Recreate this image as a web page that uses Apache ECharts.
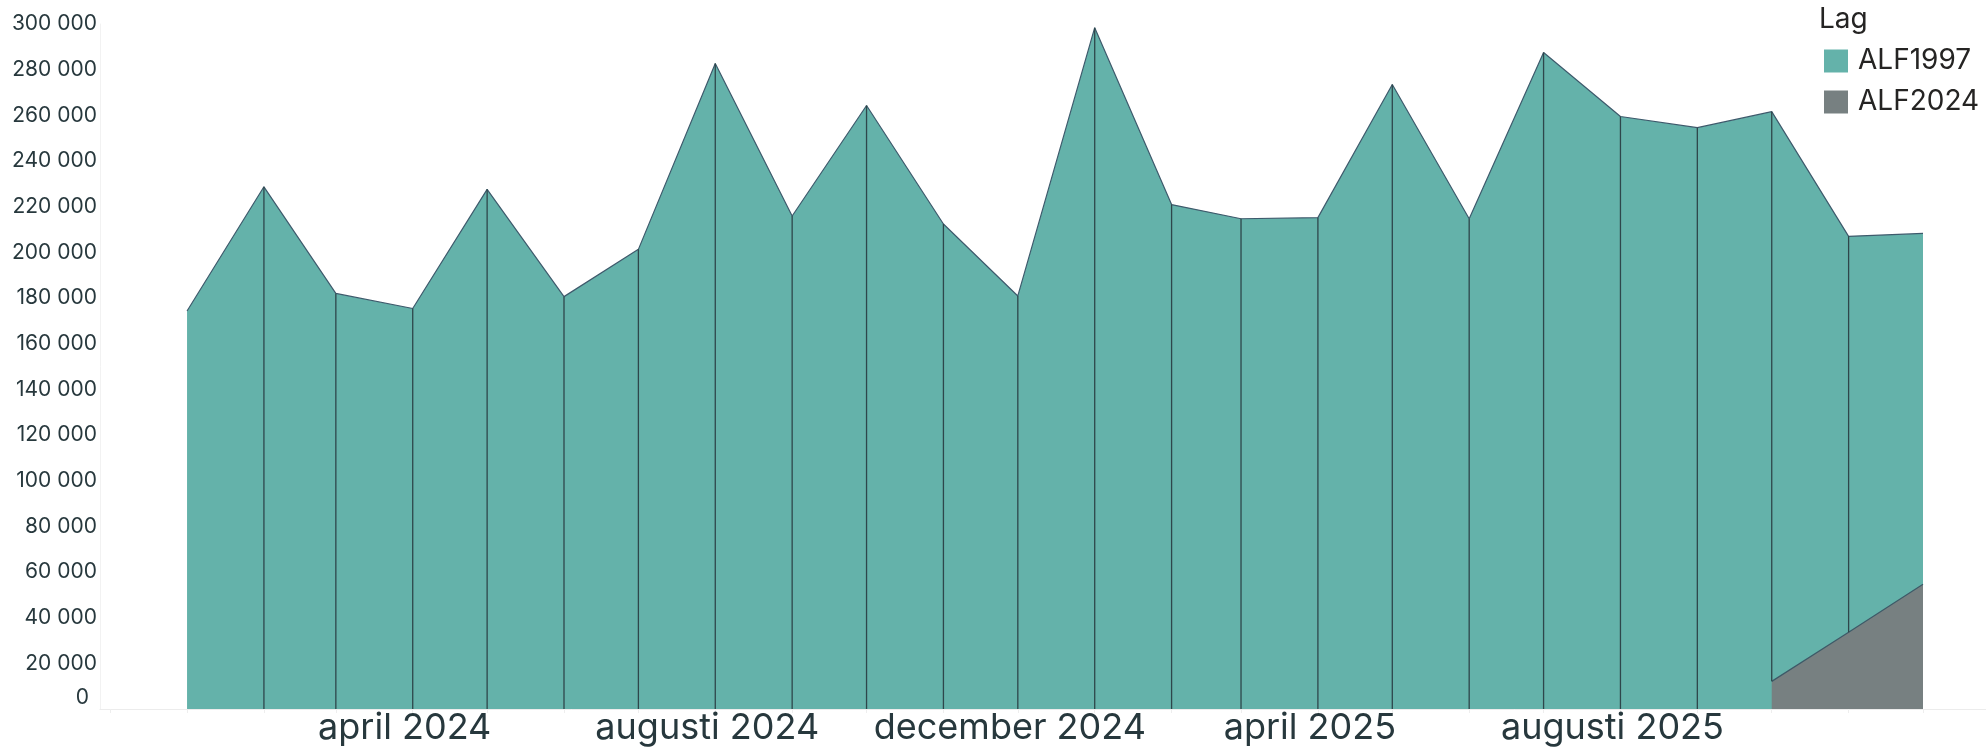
<!DOCTYPE html>
<html>
<head>
<meta charset="utf-8">
<script src="https://cdn.jsdelivr.net/npm/echarts@6/dist/echarts.min.js"></script>
<style>
  html, body { margin: 0; padding: 0; background: #fff; }
  #chart { width: 1986px; height: 747px; }
</style>
</head>
<body>
<div id="chart"></div>
<script>
// månader (första dagen i månaden)
var months = [
  '2024-01-01', '2024-02-01', '2024-03-01', '2024-04-01', '2024-05-01', '2024-06-01',
  '2024-07-01', '2024-08-01', '2024-09-01', '2024-10-01', '2024-11-01', '2024-12-01',
  '2025-01-01', '2025-02-01', '2025-03-01', '2025-04-01', '2025-05-01', '2025-06-01',
  '2025-07-01', '2025-08-01', '2025-09-01', '2025-10-01', '2025-11-01', '2025-12-01'
];

// värden per lag
var alf1997 = [
  174300, 228700, 182000, 175400, 227600, 180600,
  201300, 282700, 215900, 264300, 212400, 180900,
  298400, 220900, 214700, 215200, 273500, 214700,
  287500, 259500, 254600, 249500, 173400, 153700
];
var alf2024 = [
  null, null, null, null, null, null,
  null, null, null, null, null, null,
  null, null, null, null, null, null,
  null, null, null, 12100, 33600, 54600
];

var legendNames = ['ALF1997', 'ALF2024'];
var monthNames = ['januari', 'februari', 'mars', 'april', 'maj', 'juni',
  'juli', 'augusti', 'september', 'oktober', 'november', 'december'];
var labelMonths = [3, 7, 11];

var DAY = 864e5;
var textColor = '#27383d';

// ALF1997 ligger ovanpå ALF2024
var totals = alf1997.map(function (v, i) { return v + (alf2024[i] || 0); });

// lodräta skarvar mellan månaderna
var seams = months.map(function (m, i) {
  return [m, alf2024[i] || 0, totals[i]];
}).slice(1, -1);

function fmt(v) {
  return String(v).replace(/\B(?=(\d{3})+(?!\d))/g, ' ');
}

var firstLabel = new Date(2024, 1, 1).getTime();
var lastLabel = new Date(2025, 9, 1).getTime();

var chart = echarts.init(document.getElementById('chart'));

var option = {
  animation: false,
  backgroundColor: '#fff',
  textStyle: { fontFamily: 'Inter' },
  title: {
    text: 'Lag',
    left: 1819,
    top: 6,
    padding: 0,
    textStyle: { fontSize: 28, fontWeight: 'normal', color: '#252423', fontFamily: 'Inter' }
  },
  legend: {
    data: legendNames,
    orient: 'vertical',
    left: 1824,
    top: 47,
    padding: 0,
    itemWidth: 24,
    itemHeight: 23,
    itemGap: 13,
    icon: 'rect',
    textStyle: { fontSize: 28, color: '#252423', fontFamily: 'Inter', padding: [0, 0, 0, 5] }
  },
  grid: { left: 100, right: 0, top: 24, bottom: 38, outerBoundsMode: 'none' },
  xAxis: {
    type: 'time',
    min: new Date(2024, 0, 1).getTime() - 35.1 * DAY,
    max: new Date(2025, 11, 1).getTime() + 25.4 * DAY,
    minInterval: 28 * DAY,
    maxInterval: 31 * DAY,
    axisLine: { show: true, lineStyle: { color: '#ececec', width: 1 } },
    axisTick: { show: true, length: 4, lineStyle: { color: '#eeeeee' } },
    splitLine: { show: false },
    axisLabel: {
      fontSize: 36,
      lineHeight: 36,
      margin: 1,
      color: textColor,
      fontFamily: 'Inter',
      padding: [0, 16, 0, 0],
      formatter: function (value) {
        var d = new Date(value);
        if (value < firstLabel || value > lastLabel) return '';
        if (d.getDate() !== 1 || labelMonths.indexOf(d.getMonth()) < 0) return '';
        return monthNames[d.getMonth()] + ' ' + d.getFullYear();
      }
    }
  },
  yAxis: {
    type: 'value',
    min: 0,
    max: 300000,
    interval: 20000,
    axisLine: { show: true, lineStyle: { color: '#f2f2f2' } },
    axisTick: { show: false },
    splitLine: { show: false },
    axisLabel: {
      fontSize: 21,
      margin: 3,
      color: textColor,
      fontFamily: 'Inter',
      formatter: function (v) {
        return v === 0 ? '{z|0}' : fmt(v);
      },
      rich: {
        z: { fontSize: 21, color: textColor, fontFamily: 'Inter', padding: [0, 8, 22, 0] }
      }
    }
  },
  series: [
    {
      name: 'ALF1997',
      type: 'line',
      data: months.map(function (m, i) { return [m, totals[i]]; }),
      showSymbol: false,
      itemStyle: { color: '#64b2aa' },
      lineStyle: { color: '#3e5a6c', width: 1.2 },
      areaStyle: { color: '#64b2aa', opacity: 1 },
      z: 2
    },
    {
      name: 'ALF2024',
      type: 'line',
      data: months.map(function (m, i) { return [m, alf2024[i]]; }),
      showSymbol: false,
      connectNulls: false,
      itemStyle: { color: '#778081' },
      lineStyle: { color: '#3e5a68', width: 1.2 },
      areaStyle: { color: '#778081', opacity: 1 },
      z: 3
    },
    {
      name: 'skarvar',
      type: 'custom',
      data: seams,
      encode: { x: 0, y: [1, 2] },
      silent: true,
      z: 4,
      renderItem: function (params, api) {
        var p0 = api.coord([api.value(0), api.value(1)]);
        var p1 = api.coord([api.value(0), api.value(2)]);
        return {
          type: 'line',
          shape: { x1: p0[0], y1: p0[1], x2: p1[0], y2: p1[1] },
          style: { stroke: '#2e464b', lineWidth: 1.3 }
        };
      }
    }
  ]
};

chart.setOption(option);
</script>
</body>
</html>
